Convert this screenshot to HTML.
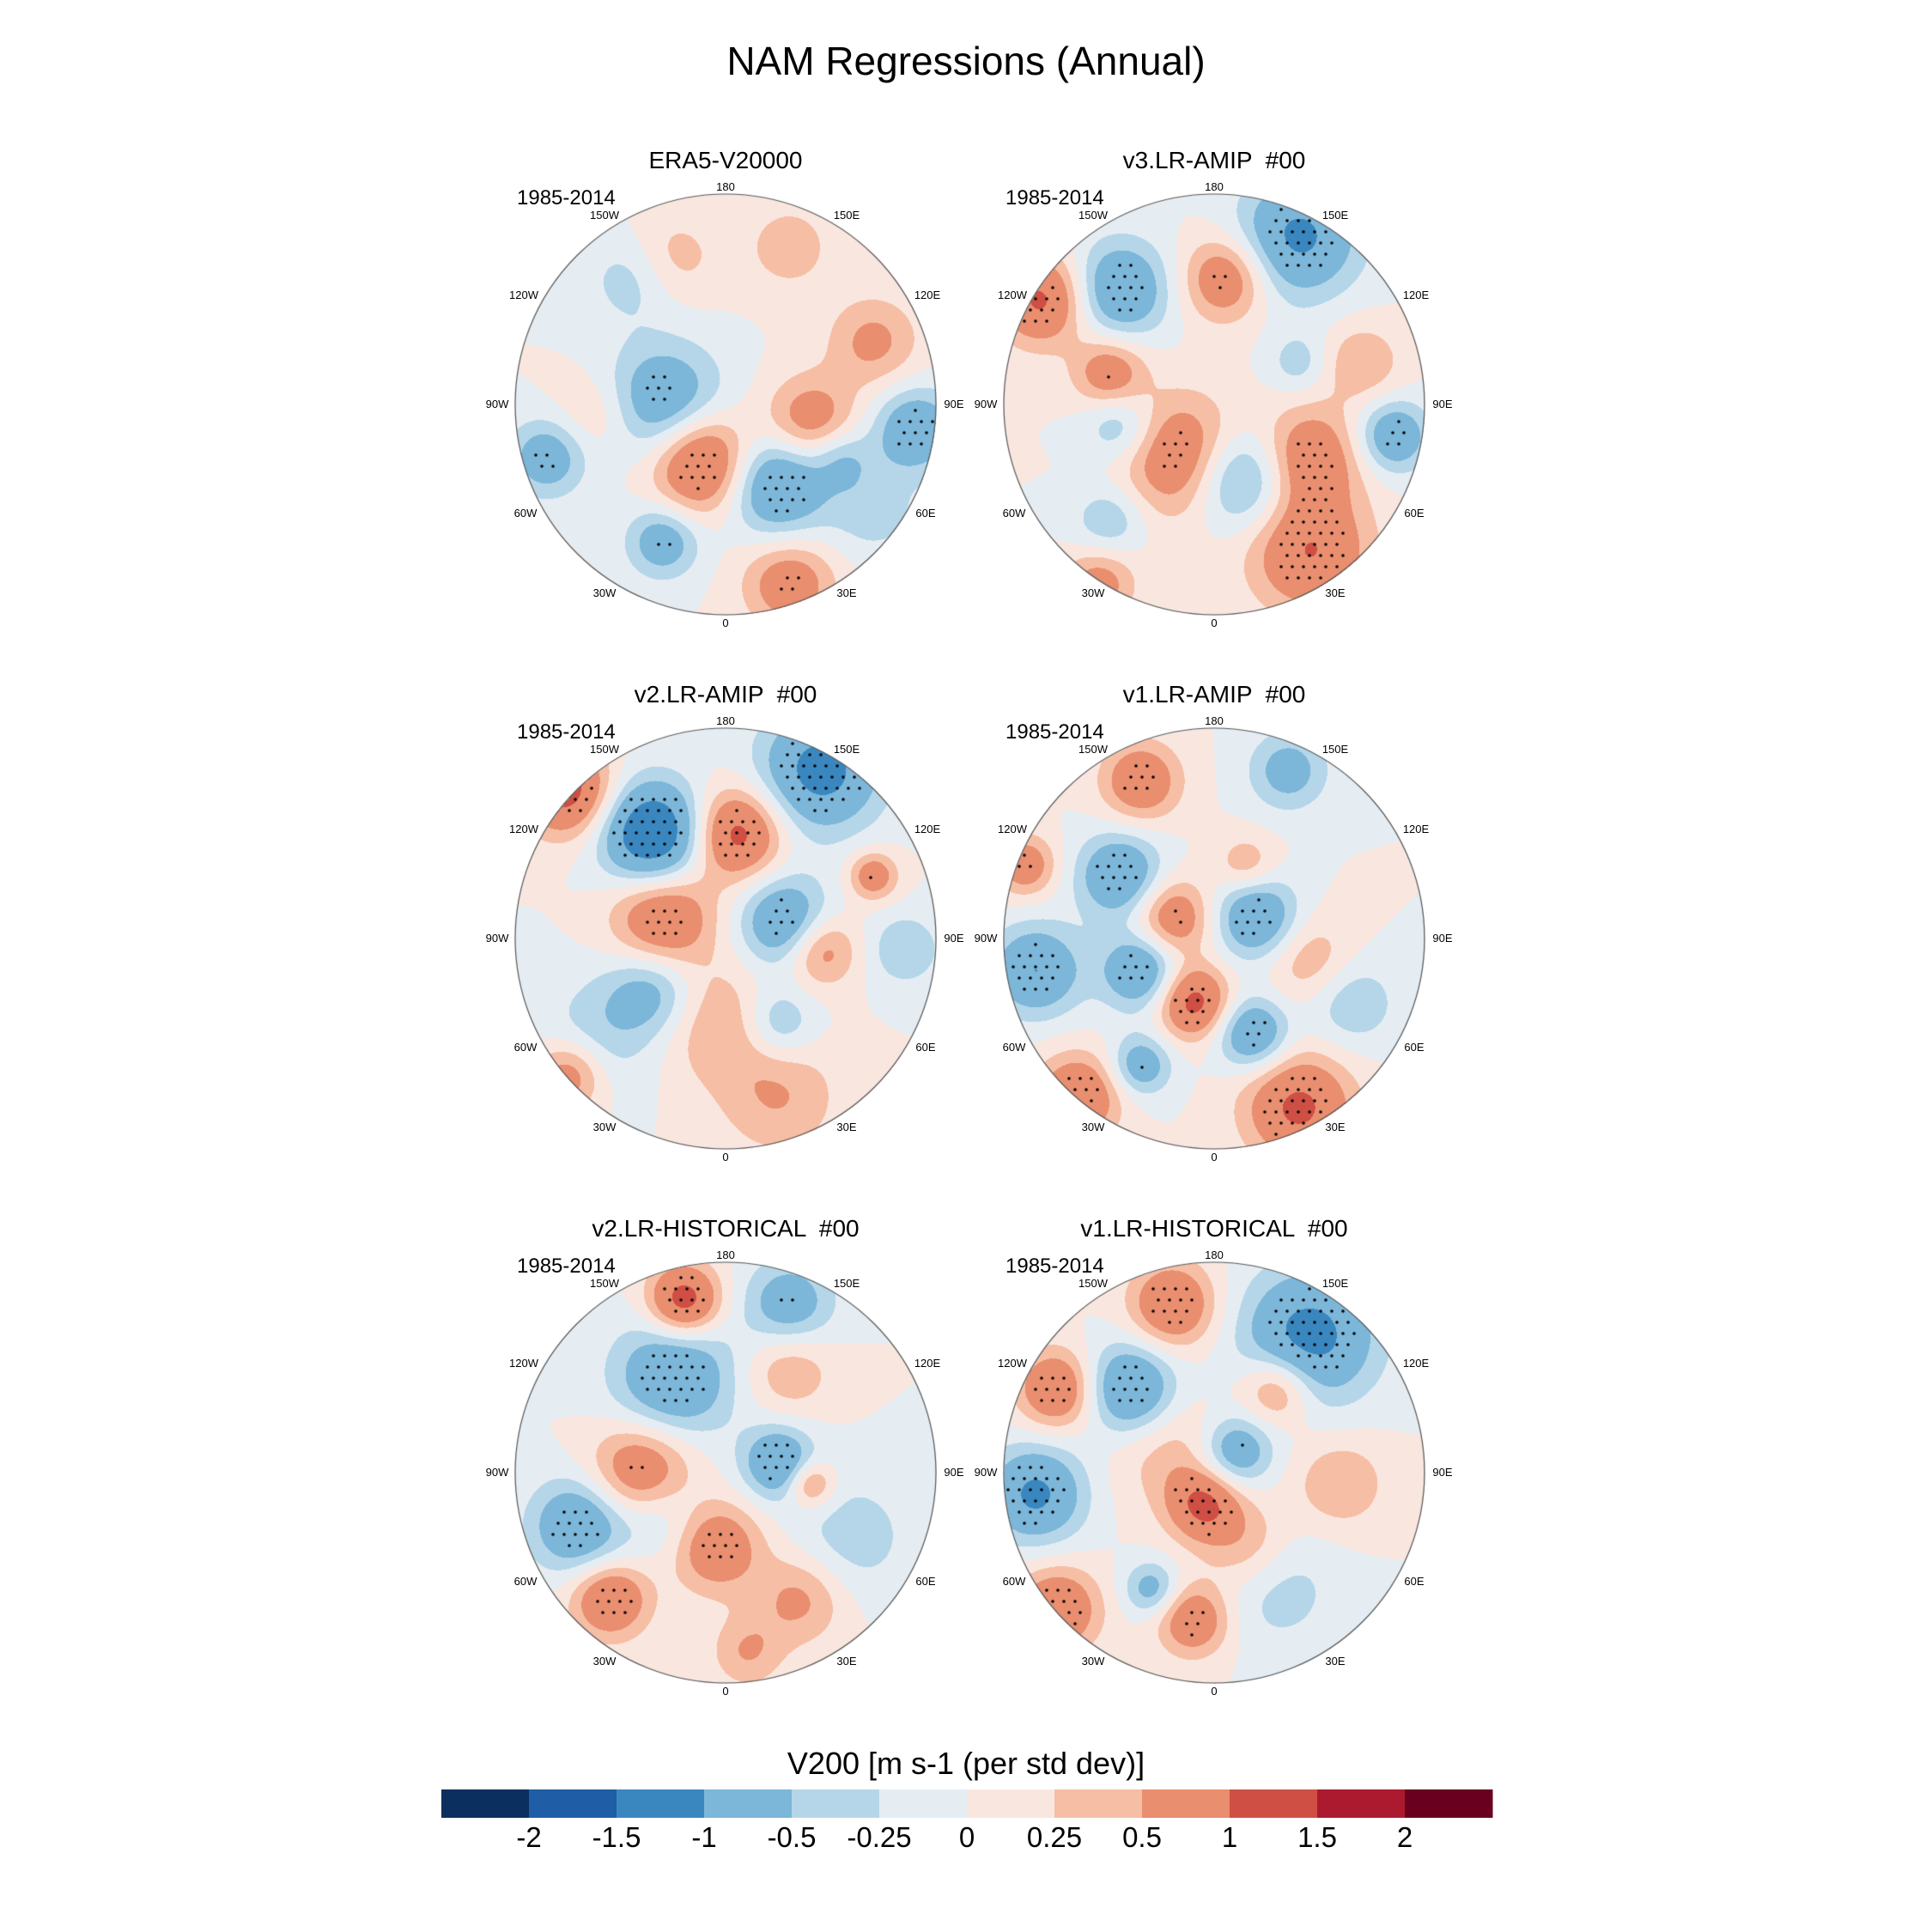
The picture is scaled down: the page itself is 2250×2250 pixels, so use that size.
<!DOCTYPE html>
<html><head><meta charset="utf-8"><style>
body{margin:0;background:#fff;}
#root{position:relative;width:2250px;height:2250px;background:#fff;font-family:"Liberation Sans",sans-serif;overflow:hidden}
.t{position:absolute;white-space:pre;color:#000}
canvas{position:absolute}
</style></head><body>
<div id="root">
<div class="t" style="left:0;width:2250px;text-align:center;top:44px;font-size:46px">NAM Regressions (Annual)</div>
<div class="t" style="left:0;width:2250px;text-align:center;top:2033px;font-size:36px">V200 [m s-1 (per std dev)]</div>
<svg id="cb" width="2250" height="2250" style="position:absolute;left:0;top:0"></svg>
</div>
<script>
const levels=["-2","-1.5","-1","-0.5","-0.25","0","0.25","0.5","1","1.5","2"];
const levelVals=[-2,-1.5,-1,-0.5,-0.25,0,0.25,0.5,1,1.5,2];
const colors=["#0b305f","#1f5ea6","#3a87c0","#7cb6d9","#b5d6e8","#e5edf3","#f9e7df","#f6bea5","#e98e6f","#cf4f44","#ab1a2e","#6a0020"];
const titles=["ERA5-V20000","v3.LR-AMIP  #00","v2.LR-AMIP  #00","v1.LR-AMIP  #00","v2.LR-HISTORICAL  #00","v1.LR-HISTORICAL  #00"];
const blobs1=[[-0.3,0,0.2,-1.0],[-0.12,0.27,0.17,1.3],[0.24,0.38,0.17,-1.1],[0.4,0.08,0.15,0.8],[0.9,0.12,0.14,-0.9],[-0.85,0.25,0.13,-0.8],[-0.3,0.65,0.12,-0.8],[0.3,0.85,0.15,0.8],[0.7,-0.3,0.15,0.6],[-0.25,-0.7,0.15,0.4],[-0.45,-0.6,0.15,-0.4],[0.3,-0.75,0.15,0.4],[0.7,0.5,0.15,-0.4],[-0.6,0.05,0.15,0.4],[0.55,0.25,0.1,-0.5]];
const blobs2=[[-0.82,-0.5,0.15,1.1],[-0.45,-0.55,0.16,-1.0],[0.05,-0.6,0.14,0.9],[0.4,-0.8,0.2,-1.1],[-0.5,-0.15,0.12,0.8],[-0.45,0.1,0.12,-0.6],[-0.15,0.25,0.2,1.0],[0.12,0.35,0.17,-1.0],[0.45,0.25,0.17,0.9],[0.85,0.15,0.12,-0.9],[0.45,0.7,0.2,1.0],[-0.55,0.85,0.12,0.7],[-0.5,0.55,0.12,-0.5],[0.7,-0.2,0.13,0.5],[0.4,-0.2,0.1,-0.4]];
const blobs3=[[-0.75,-0.7,0.15,1.2],[-0.35,-0.5,0.17,-1.6],[0.05,-0.5,0.15,1.2],[0.45,-0.8,0.2,-1.2],[-0.3,-0.1,0.17,1.0],[0.28,-0.08,0.15,-1.0],[-0.35,0.25,0.15,-0.7],[0.45,0.05,0.12,0.8],[0.7,-0.3,0.08,0.8],[0.25,0.4,0.12,-0.6],[-0.05,0.4,0.2,0.5],[-0.75,0.65,0.12,0.8],[0.25,0.75,0.2,0.5],[0.85,0.05,0.12,-0.5],[-0.6,0.45,0.2,-0.4]];
const blobs4=[[-0.35,-0.75,0.13,0.9],[0.35,-0.8,0.13,-0.7],[-0.45,-0.3,0.14,-1.0],[-0.9,-0.35,0.1,0.8],[0.15,-0.35,0.1,0.5],[-0.2,-0.1,0.13,0.9],[0.2,-0.1,0.14,-1.0],[-0.35,0.15,0.13,-1.0],[-0.1,0.3,0.12,1.2],[0.18,0.45,0.12,-1.0],[-0.85,0.15,0.15,-1.0],[-0.65,0.75,0.14,1.0],[0.4,0.8,0.18,1.1],[-0.35,0.6,0.1,-0.8],[0.45,0.1,0.15,0.5],[0.65,0.3,0.15,-0.5]];
const blobs5=[[-0.2,-0.82,0.12,1.3],[0.3,-0.8,0.15,-0.8],[-0.25,-0.45,0.2,-1.0],[-0.4,0,0.17,1.0],[0.25,-0.05,0.12,-1.0],[0.4,0.05,0.08,0.8],[-0.7,0.25,0.16,-1.0],[-0.3,0.2,0.15,-0.5],[-0.05,0.35,0.15,0.9],[-0.55,0.6,0.13,1.0],[0.35,0.6,0.15,0.6],[0.6,0.3,0.2,-0.4],[0.3,-0.5,0.15,0.5],[0.1,0.85,0.12,0.5]];
const blobs6=[[-0.2,-0.8,0.14,1.0],[0.45,-0.65,0.22,-1.2],[-0.75,-0.4,0.13,1.0],[-0.4,-0.4,0.15,-1.1],[0.3,-0.4,0.12,0.8],[0.1,-0.1,0.12,-0.9],[-0.05,0.15,0.12,1.0],[-0.85,0.1,0.16,-1.1],[-0.75,0.65,0.14,1.0],[-0.1,0.7,0.12,0.9],[-0.3,0.55,0.09,-0.7],[0.6,0.05,0.15,0.5],[0.15,0.35,0.15,0.5],[0.3,0.55,0.2,-0.4],[-0.2,-0.1,0.2,0.4]];
const allBlobs=[blobs1,blobs2,blobs3,blobs4,blobs5,blobs6];
const lonLabels=["180","150E","120E","90E","60E","30E","0","30W","60W","90W","120W","150W"];
const lonOffX=[0,141,235,266,233,141,0,-141,-233,-266,-235,-141];
const lonOffY=[-253,-220,-127,0,127,220,255,220,127,0,-127,-220];

const root=document.getElementById('root');
const NS="http://www.w3.org/2000/svg";
const cx=[845,1414], cy=[471,1093,1715], R=245;
function hex(c){return [parseInt(c.slice(1,3),16),parseInt(c.slice(3,5),16),parseInt(c.slice(5,7),16)];}
const rgb=colors.map(hex);
function idxOf(v){let i=0;while(i<levelVals.length&&v>=levelVals[i])i++;return i;}
function field(b,x,y){let s=0;for(const q of b){const dx=x-q[0],dy=y-q[1];s+=q[3]*Math.exp(-(dx*dx+dy*dy)/(2*q[2]*q[2]));}return s;}

allBlobs.forEach((b,p)=>{
  const X=cx[p%2],Y=cy[Math.floor(p/2)];
  const t=document.createElement('div');t.className='t';
  
  
  t.style.cssText=`left:${X-300}px;width:600px;text-align:center;top:${Y-300}px;font-size:28px`;t.textContent=titles[p];root.appendChild(t);
  const pr=document.createElement('div');pr.className='t';
  
  
  pr.style.cssText=`left:${X-243}px;top:${Y-254}px;font-size:24px`;pr.textContent="1985-2014";root.appendChild(pr);
  const cv=document.createElement('canvas');
  
  
  const S=2*R+2;cv.width=S;cv.height=S;cv.style.left=(X-R-1)+'px';cv.style.top=(Y-R-1)+'px';
  root.appendChild(cv);
  const ctx=cv.getContext('2d');const img=ctx.createImageData(S,S);
  for(let j=0;j<S;j++)for(let i=0;i<S;i++){
    const nx=(i-R-1)/R,ny=(j-R-1)/R;if(nx*nx+ny*ny>1)continue;
    const c=rgb[idxOf(field(b,nx,ny))];const k=(j*S+i)*4;
    img.data[k]=c[0];img.data[k+1]=c[1];img.data[k+2]=c[2];img.data[k+3]=255;}
  ctx.putImageData(img,0,0);
  ctx.fillStyle='#000';
  for(let j=6;j<S;j+=13)for(let i=6+((j/13|0)%2)*6;i<S;i+=13){
    const nx=(i-R-1)/R,ny=(j-R-1)/R;if(nx*nx+ny*ny>0.98)continue;
    if(Math.abs(field(b,nx,ny))>0.7){ctx.beginPath();ctx.arc(i,j,1.8,0,7);ctx.fill();}}
  ctx.strokeStyle='#555';ctx.lineWidth=1.2;ctx.beginPath();ctx.arc(R+1,R+1,R,0,7);ctx.stroke();
  lonLabels.forEach((l,k)=>{
    const d=document.createElement('div');d.className='t';
    
    
    d.style.cssText=`left:${X+lonOffX[k]-40}px;width:80px;text-align:center;top:${Y+lonOffY[k]-8}px;font-size:13px`;
    d.textContent=l;root.appendChild(d);});
});

const cb=document.getElementById('cb');
const x0=514,w=1224/12;
colors.forEach((c,i)=>{const r=document.createElementNS(NS,'rect');
  
  
  r.setAttribute('x',x0+i*w);r.setAttribute('y',2084);r.setAttribute('width',w+0.5);r.setAttribute('height',33);r.setAttribute('fill',c);cb.appendChild(r);});
levels.forEach((l,i)=>{const t=document.createElementNS(NS,'text');
  
  
  t.setAttribute('x',x0+(i+1)*w);t.setAttribute('y',2151);t.setAttribute('text-anchor','middle');t.setAttribute('font-size','33');t.setAttribute('font-family','Liberation Sans, sans-serif');t.textContent=l;cb.appendChild(t);});
</script>
</body></html>
